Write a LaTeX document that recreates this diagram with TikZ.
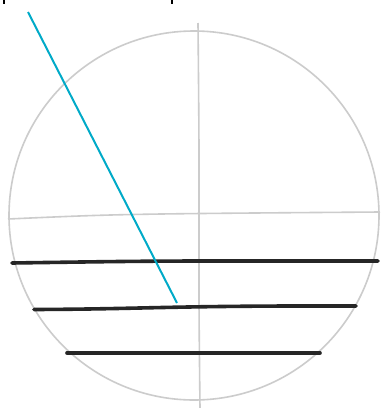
\documentclass[tikz,border=0pt]{standalone}
\begin{document}
\begin{tikzpicture}[x=1pt,y=-1pt,
  guide/.style={draw=black!20, line width=1.6pt},
  stroke/.style={draw=black!85, line width=3.6pt, line cap=round},
  leader/.style={draw={rgb,255:red,0;green,170;blue,200}, line width=2pt},
  frag/.style={draw=black, line width=1.6pt}]
\useasboundingbox (0,0) rectangle (381,408);
\fill[white] (0,0) rectangle (381,408);
% circle guide
\draw[guide] (194,215.5) ellipse [x radius=185, y radius=184.5];
% cross guides
\draw[guide] plot[smooth] coordinates {(198,23) (199,150) (199,300) (200,408)};
\draw[guide] (8,219) .. controls (120,214) .. (380,212);
% horizontal strokes
\draw[stroke] plot[smooth] coordinates {(12,263) (120,261.5) (200,261) (378,261)};
\draw[stroke] (34,309.5) .. controls (150,309) and (170,305.5) .. (356,306);
\draw[stroke] plot[smooth] coordinates {(67,353) (200,353) (320,353)};
% leader line
\coordinate (la) at (28,12);
\coordinate (lb) at (177,303);
\draw[leader] (la) -- (lb);
% cut-off text fragments
\draw[frag] (4,0) -- (4,3.5);
\draw[frag] (172,0) -- (172,3.5);
\end{tikzpicture}
\end{document}
